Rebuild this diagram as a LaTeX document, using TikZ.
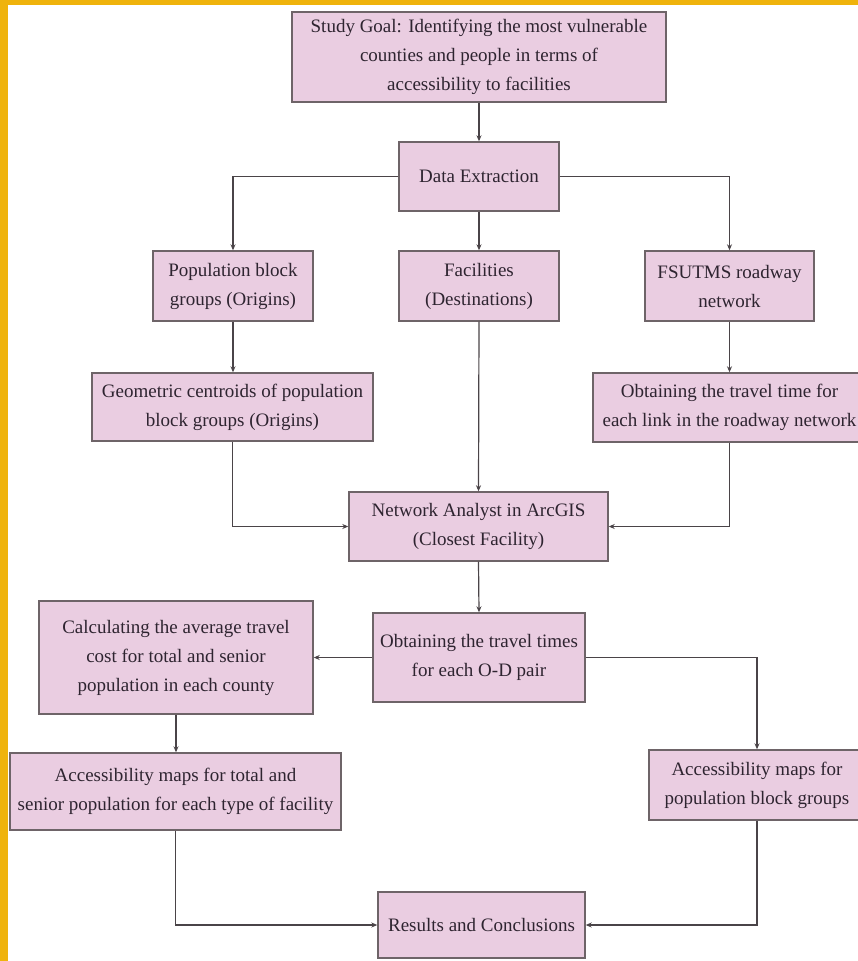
\documentclass[tikz,border=0pt]{standalone}
\usepackage{fontspec}
\setmainfont{Liberation Serif}
\usetikzlibrary{arrows.meta}
\definecolor{boxfill}{HTML}{EACDE1}
\definecolor{boxline}{HTML}{6E6468}
\definecolor{txt}{HTML}{2E2430}
\definecolor{frame}{HTML}{EFB30C}
\definecolor{conn}{HTML}{4A4448}
\tikzset{
  stepbox/.style={draw=boxline, line width=1.4pt, fill=boxfill, text=txt, align=center,
    inner sep=0pt, font={\fontsize{19}{29}\selectfont}},
  arr/.style={draw=conn, line width=1.2pt, -{Stealth[length=6pt,width=5pt]}}
}
\begin{document}
\begin{tikzpicture}[x=1pt,y=-1pt]
\useasboundingbox (0,0) rectangle (858,961);
\fill[white] (0,0) rectangle (858,961);
\fill[frame] (0,0) rectangle (858,5);
\fill[frame] (0,0) rectangle (8,961);

\node[stepbox, minimum width=374pt, minimum height=90pt] (goal) at (479,57)
  {Study Goal: Identifying the most vulnerable\\counties and people in terms of\\accessibility to facilities};
\node[stepbox, minimum width=160pt, minimum height=69pt] (de) at (479,176.5) {Data Extraction};
\node[stepbox, minimum width=160pt, minimum height=70pt] (pop) at (233,286) {Population block\\groups (Origins)};
\node[stepbox, minimum width=160pt, minimum height=70pt] (fac) at (479,286) {Facilities\\(Destinations)};
\node[stepbox, minimum width=169pt, minimum height=70pt] (fsu) at (729.5,286) {FSUTMS roadway\\network};
\node[stepbox, minimum width=281pt, minimum height=68pt] (geo) at (232.5,407) {Geometric centroids of population\\block groups (Origins)};
\node[stepbox, minimum width=273pt, minimum height=69pt] (obt) at (729.5,407.5) {Obtaining the travel time for\\each link in the roadway network};
\node[stepbox, minimum width=259pt, minimum height=69pt] (na) at (478.5,526.5) {Network Analyst in ArcGIS\\(Closest Facility)};
\node[stepbox, minimum width=212pt, minimum height=89pt] (od) at (479,657.5) {Obtaining the travel times\\for each O-D pair};
\node[stepbox, minimum width=274pt, minimum height=113pt] (calc) at (176,657.5) {Calculating the average travel\\cost for total and senior\\population in each county};
\node[stepbox, minimum width=331pt, minimum height=77pt] (acct) at (175.5,791.5) {Accessibility maps for total and\\senior population for each type of facility};
\node[stepbox, minimum width=216pt, minimum height=70pt] (accb) at (757,785) {Accessibility maps for\\population block groups};
\node[stepbox, minimum width=207pt, minimum height=66pt] (res) at (481.5,925) {Results and Conclusions};

\draw[arr] (goal.south) -- (de.north);
\draw[arr] (de.west) -| (pop.north);
\draw[arr] (de.south) -- (fac.north);
\draw[arr] (de.east) -| (fsu.north);
\draw[arr] (pop.south) -- (pop.south |- geo.north);
\draw[arr] (fsu.south) -- (fsu.south |- obt.north);
\draw[arr] (geo.south) |- (na.west);
\draw[arr] (fac.south) -- (na.north);
\draw[arr] (obt.south) |- (na.east);
\draw[arr] (na.south) -- (od.north);
\draw[arr] (od.west) -- (calc.east);
\draw[arr] (od.east) -| (accb.north);
\draw[arr] (calc.south) -- (calc.south |- acct.north);
\draw[arr] (acct.south) |- (res.west);
\draw[arr] (accb.south) |- (res.east);
\end{tikzpicture}
\end{document}
